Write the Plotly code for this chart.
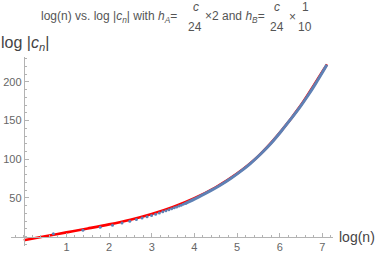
import numpy as np
import plotly.graph_objects as go

# ---- data ----
# blue points: log|c_n| at even n (individually visible part)
n_sparse = [2, 4, 6, 8, 10, 12, 14, 16, 18, 20, 22, 24, 26, 28, 30, 32, 34, 36, 38, 40, 42, 44]
logc_sparse = [3.9, 8.3, 12.2, 14.8, 17.6, 19.9, 22.1, 24.0, 25.8, 27.5, 29.1, 30.6, 32.1,
               33.5, 34.8, 36.1, 37.3, 38.5, 39.6, 40.7, 41.8, 42.8]
# blue points: dense part (samples along the continuous-looking band)
n_dense = [44, 46, 60, 80, 100, 130, 160, 200, 260, 330, 420, 520, 640, 780, 940, 1100, 1220]
logc_dense = [42.8, 44.0, 51.2, 59.4, 66.4, 75.8, 84.0, 93.8, 107.1, 120.7, 136.5, 151.4,
              166.4, 182.0, 198.0, 212.3, 222.0]
# red fitted curve
fit_x = [0, 0.5, 1, 1.5, 2, 2.5, 3, 3.5, 4, 4.5, 5, 5.5, 6, 6.5, 7, 7.11]
fit_y = [-4.5, 0.6, 5.6, 10.6, 15.9, 22.0, 29.4, 38.5, 49.8, 63.8, 81.5, 104, 134, 170, 213, 222.5]

x_ticks = [1, 2, 3, 4, 5, 6, 7]
y_ticks = [50, 100, 150, 200]

BLUE = "#5E81B5"
RED = "#FF0000"
AX = "#b3b3b3"
TXT = "#555555"

xr = [-0.3, 7.25]
yr = [-12, 232]

fig = go.Figure()
fig.add_trace(go.Scatter(x=fit_x, y=fit_y, mode="lines", line=dict(color=RED, width=2.6, shape="spline"),
                         hoverinfo="skip"))
fig.add_trace(go.Scatter(x=np.log(n_dense), y=logc_dense, mode="lines",
                         line=dict(color=BLUE, width=3, shape="spline")))
fig.add_trace(go.Scatter(x=np.log(n_sparse), y=logc_sparse, mode="markers",
                         marker=dict(color=BLUE, size=3, line=dict(width=0))))

tickfont = dict(family="Liberation Sans, Arial", size=11, color="#666666")
L, R, T, B = 11.4, 333.0, 57.0, 246.3
fig.update_layout(
    width=382, height=255,
    margin=dict(l=L, r=382 - R, t=T, b=255 - B, pad=0, autoexpand=False),
    paper_bgcolor="white", plot_bgcolor="white",
    showlegend=False,
    xaxis=dict(range=xr, anchor="free", position=(0 - yr[0]) / (yr[1] - yr[0]), automargin=False,
               showline=True, linecolor=AX, linewidth=1, zeroline=False, showgrid=False,
               tickvals=x_ticks, ticks="inside", ticklen=4, tickcolor=AX, tickfont=tickfont,
               minor=dict(dtick=0.2, tick0=0, ticks="inside", ticklen=2, tickcolor=AX, showgrid=False)),
    yaxis=dict(range=yr, anchor="free", position=(0 - xr[0]) / (xr[1] - xr[0]), automargin=False,
               showline=True, linecolor=AX, linewidth=1, zeroline=False, showgrid=False,
               tickvals=y_ticks, ticks="inside", ticklen=4, tickcolor=AX, tickfont=tickfont,
               minor=dict(dtick=10, tick0=0, ticks="inside", ticklen=2, tickcolor=AX, showgrid=False)),
)

tf = "Liberation Sans, Arial"
def ann(text, x, y, size=12, xanchor="center", color=TXT):
    fig.add_annotation(text=text, x=x, y=y, xref="paper", yref="paper", xanchor=xanchor,
                       yanchor="middle", showarrow=False, font=dict(family=tf, size=size, color=color))

# convert pixel positions to paper coordinates
def px(xp):
    return (xp - L) / (R - L)
def py(yp):
    return (B - yp) / (B - T)

ann("log(n) vs. log |<i>c</i><sub><i>n</i></sub>| with <i>h</i><sub><i>A</i></sub>=", px(39), py(17), xanchor="left")
ann("<i>c</i>", px(196), py(7))
ann("24", px(195.5), py(27))
ann("×2 and <i>h</i><sub><i>B</i></sub>=", px(203), py(17), xanchor="left")
ann("<i>c</i>", px(277), py(7))
ann("24", px(277), py(27))
ann("×", px(293), py(17))
ann("1", px(306), py(7))
ann("10", px(305), py(27))

ann("log |<i>c</i><sub><i>n</i></sub>|", px(-1), py(43), size=16, xanchor="left", color="#444444")
ann("log(n)", px(337), py(237), size=14, xanchor="left", color="#444444")

fig.write_html("out.html", config={"displayModeBar": False},
               post_script="document.body.style.margin='0';")
